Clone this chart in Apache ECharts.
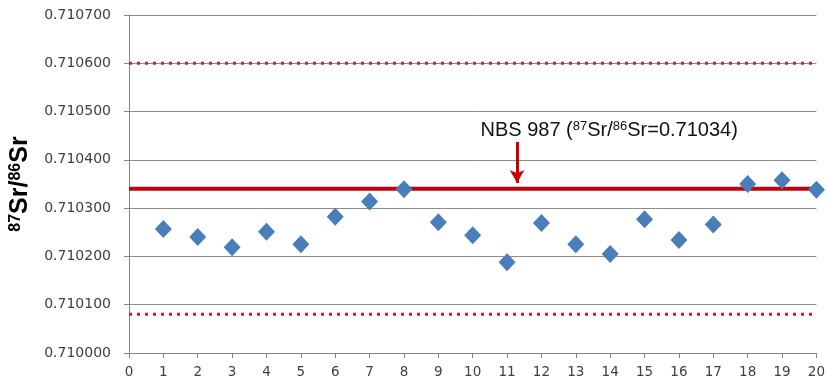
<!DOCTYPE html>
<html>
<head>
<meta charset="utf-8">
<script src="https://cdn.jsdelivr.net/npm/echarts@6/dist/echarts.min.js"></script>
<style>
  html, body { margin: 0; padding: 0; background: #ffffff; }
  #chart { width: 828px; height: 389px; }
</style>
</head>
<body>
<div id="chart"></div>
<script>
// Run numbers (x) and measured 87Sr/86Sr ratios of the NBS 987 standard
const runs = [1, 2, 3, 4, 5, 6, 7, 8, 9, 10, 11, 12, 13, 14, 15, 16, 17, 18, 19, 20];
const ratios = [
  0.710257, 0.710240, 0.710219, 0.710251, 0.710225,
  0.710282, 0.710314, 0.710339, 0.710271, 0.710244,
  0.710188, 0.710269, 0.710225, 0.710205, 0.710277,
  0.710234, 0.710266, 0.710350, 0.710358, 0.710338
];

// Certified value and the upper / lower limits around it
const certifiedValue = 0.71034;
const upperLimit = 0.71060;
const lowerLimit = 0.71008;

// Axis ranges and ticks
const xRange = [0, 20];
const xStep = 1;
const yRange = [0.7100, 0.7107];
const yStep = 0.0001;

// Annotation text anchor and arrow (data coordinates)
const noteAnchor = [13.97, 0.710461];
const arrowFrom = [11.29, 0.710437];
const arrowTo = [11.29, 0.710352];

const chart = echarts.init(document.getElementById('chart'), null, { renderer: 'canvas' });

const gray = '#868686';
const labelColor = '#404040';

const option = {
  backgroundColor: '#ffffff',
  animation: false,
  grid: { left: 129, right: 9, top: 15, bottom: 36 },
  xAxis: {
    type: 'value',
    min: xRange[0],
    max: xRange[1],
    interval: xStep,
    axisLine: { show: true, lineStyle: { color: gray, width: 1 } },
    axisTick: { show: true, length: 5, lineStyle: { color: gray } },
    axisLabel: { color: labelColor, fontFamily: 'DejaVu Sans', fontSize: 13.5, margin: 12 },
    splitLine: { show: false }
  },
  yAxis: {
    type: 'value',
    min: yRange[0],
    max: yRange[1],
    interval: yStep,
    name: '{sup|87}{b|Sr/}{sup|86}{b|Sr}',
    nameLocation: 'middle',
    nameRotate: 90,
    nameGap: 96,
    nameTextStyle: {
      rich: {
        b: { fontFamily: 'Liberation Sans', fontWeight: 'bold', fontSize: 25, color: '#000000' },
        sup: { fontFamily: 'Liberation Sans', fontWeight: 'bold', fontSize: 16, color: '#000000', padding: [0, 0, 9, 0] }
      }
    },
    axisLine: { show: true, lineStyle: { color: gray, width: 1 } },
    axisTick: { show: true, length: 5, lineStyle: { color: gray } },
    axisLabel: {
      color: labelColor,
      fontFamily: 'DejaVu Sans',
      fontSize: 14,
      margin: 18,
      formatter: v => v.toFixed(6)
    },
    splitLine: { show: true, lineStyle: { color: '#8c8c8c', width: 1 } }
  },
  series: [
    {
      name: 'upper',
      type: 'line',
      data: [[xRange[0], upperLimit], [xRange[1], upperLimit]],
      symbol: 'none',
      lineStyle: { color: '#e3103a', width: 3, type: [3, 5] },
      z: 2
    },
    {
      name: 'lower',
      type: 'line',
      data: [[xRange[0], lowerLimit], [xRange[1], lowerLimit]],
      symbol: 'none',
      lineStyle: { color: '#e3103a', width: 3, type: [3, 5] },
      z: 2
    },
    {
      name: 'NBS 987',
      type: 'line',
      data: [[xRange[0], certifiedValue], [xRange[1], certifiedValue]],
      symbol: 'none',
      lineStyle: { color: '#c4000c', width: 4 },
      z: 2,
      markLine: {
        silent: true,
        symbol: ['none', 'arrow'],
        symbolSize: [11, 13],
        lineStyle: { color: '#cc0000', width: 3, type: 'solid' },
        label: { show: false },
        data: [[{ coord: arrowFrom }, { coord: arrowTo }]]
      }
    },
    {
      name: 'note',
      type: 'scatter',
      data: [noteAnchor],
      symbolSize: 0,
      silent: true,
      itemStyle: { opacity: 1 },
      label: {
        show: true,
        position: 'inside',
        opacity: 1,
        textBorderWidth: 0,
        formatter: '{t|NBS 987 (}{s|87}{t|Sr/}{s|86}{t|Sr=0.71034)}',
        rich: {
          t: { fontFamily: 'Liberation Sans', fontSize: 20, color: '#111111' },
          s: { fontFamily: 'Liberation Sans', fontSize: 13, color: '#111111', padding: [0, 0, 8, 0] }
        }
      },
      z: 4
    },
    {
      name: 'measured',
      type: 'scatter',
      data: runs.map((r, i) => [r, ratios[i]]),
      symbol: 'diamond',
      symbolSize: [17, 18],
      itemStyle: { color: '#4a7ebb', opacity: 1 },
      z: 5
    }
  ]
};

chart.setOption(option);
</script>
</body>
</html>
